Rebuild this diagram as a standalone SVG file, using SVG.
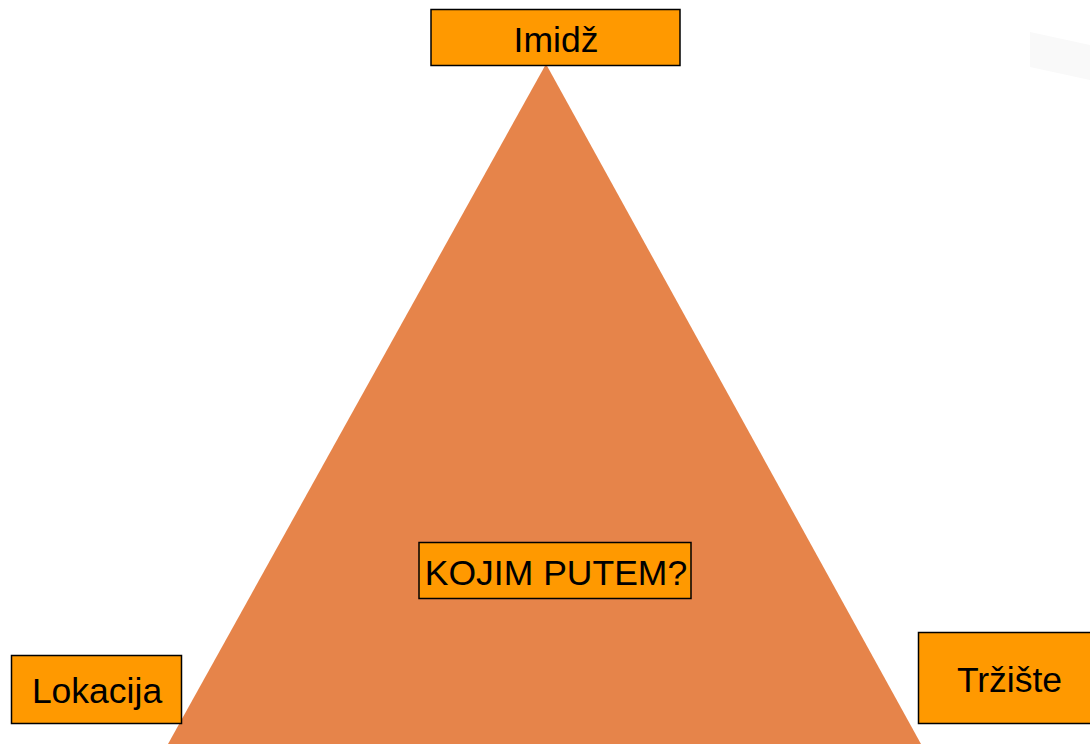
<svg xmlns="http://www.w3.org/2000/svg" width="1090" height="744" viewBox="0 0 1090 744">
<style>
.box{fill:#FF9900;stroke:#000;stroke-width:1.5}
.t{font-family:"Liberation Sans",Arial,sans-serif;fill:#000;text-anchor:middle;font-size:35.5px}
</style>
<rect width="1090" height="744" fill="#fff"/>
<polygon points="1030,32 1090,45 1090,80 1030,67" fill="#f9f9f9"/>
<g id="triangle">
<polygon points="546,64 168,744 921,744" fill="#E6844A"/>
</g>
<g id="connectors"></g>
<g id="imidz">
<rect class="box" x="431" y="9.5" width="249" height="56"/>
<text class="t" x="556" y="52">Imidž</text>
</g>
<g id="kojim">
<rect class="box" x="419" y="542.5" width="272" height="56"/>
<text class="t" x="556" y="585">KOJIM PUTEM?</text>
</g>
<g id="lokacija">
<rect class="box" x="11.5" y="655.5" width="170" height="68"/>
<text class="t" x="97" y="703">Lokacija</text>
</g>
<g id="trziste">
<rect class="box" x="918.5" y="632.5" width="175" height="91"/>
<text class="t" x="1009.5" y="692">Tržište</text>
</g>
</svg>
